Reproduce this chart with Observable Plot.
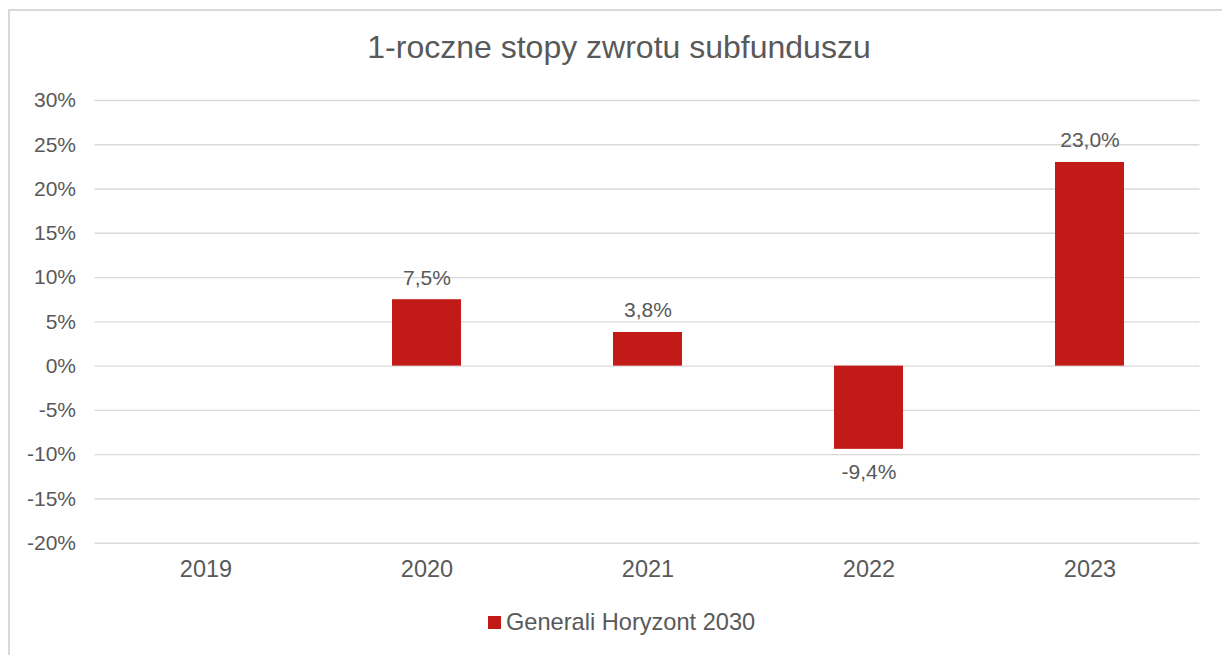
<!DOCTYPE html>
<html>
<head>
<meta charset="utf-8">
<script src="https://cdn.jsdelivr.net/npm/d3@7"></script>
<script src="https://cdn.jsdelivr.net/npm/@observablehq/plot@0.6"></script>
<style>
  html, body { margin: 0; padding: 0; background: #fff; }
  #wrap { position: relative; width: 1222px; height: 655px; overflow: hidden; font-family: "Liberation Sans", Arial, sans-serif; color: #595959; }
  #frame { position: absolute; left: 8px; top: 9px; width: 1400px; height: 800px; border-top: 2px solid #d9d9d9; border-left: 2px solid #d9d9d9; box-sizing: border-box; }
  #title { position: absolute; left: 0; width: 1238px; top: 29px; text-align: center; font-size: 32px; line-height: 36px; }
  #chart { position: absolute; left: 0; top: 0; }
  #legend { position: absolute; left: 488px; top: 608px; font-size: 23.6px; line-height: 28px; display: flex; align-items: center; }
  #legend .sw { width: 13px; height: 13px; background: #C21A17; margin-right: 5px; }
</style>
</head>
<body>
<div id="wrap">
  <div id="frame"></div>
  <div id="chart"></div>
  <div id="title">1-roczne stopy zwrotu subfunduszu</div>
  <div id="legend"><span class="sw"></span><span>Generali Horyzont 2030</span></div>
</div>
<script>
const years = ["2019", "2020", "2021", "2022", "2023"];
const returns = [null, 7.5, 3.8, -9.4, 23.0];
const yTicks = [-20, -15, -10, -5, 0, 5, 10, 15, 20, 25, 30];
const seriesName = "Generali Horyzont 2030";

const data = years.map((y, i) => ({year: y, value: returns[i]})).filter(d => d.value != null);
const fmt = v => v.toFixed(1).replace(".", ",") + "%";
const barColor = "#C21A17";
const textColor = "#595959";

const H = 600;
const chart = Plot.plot({
  width: 1222,
  height: H,
  marginLeft: 94.5,
  marginRight: 22.5,
  marginTop: 100,
  marginBottom: H - 542.7,
  style: {fontFamily: "'Liberation Sans', Arial, sans-serif", color: textColor, background: "transparent"},
  x: {domain: years, paddingInner: 0.688, paddingOuter: 0.344, align: 0.5},
  y: {domain: [-20, 30]},
  marks: [
    Plot.ruleY(yTicks, {stroke: "#d9d9d9", strokeWidth: 1.4}),
    Plot.barY(data, {x: "year", y: "value", fill: barColor}),
    Plot.text(data.filter(d => d.value >= 0), {x: "year", y: "value", text: d => fmt(d.value), lineAnchor: "bottom", dy: -15, fontSize: 21, fill: textColor}),
    Plot.text(data.filter(d => d.value < 0), {x: "year", y: "value", text: d => fmt(d.value), lineAnchor: "top", dy: 15, fontSize: 21, fill: textColor}),
    Plot.axisY({ticks: yTicks, tickFormat: d => d + "%", tickSize: 0, tickPadding: 19, fontSize: 21, label: null, fill: textColor}),
    Plot.axisX({tickSize: 0, tickPadding: 17, fontSize: 23.5, label: null, fill: textColor})
  ]
});
document.getElementById("chart").appendChild(chart);
</script>
</body>
</html>
